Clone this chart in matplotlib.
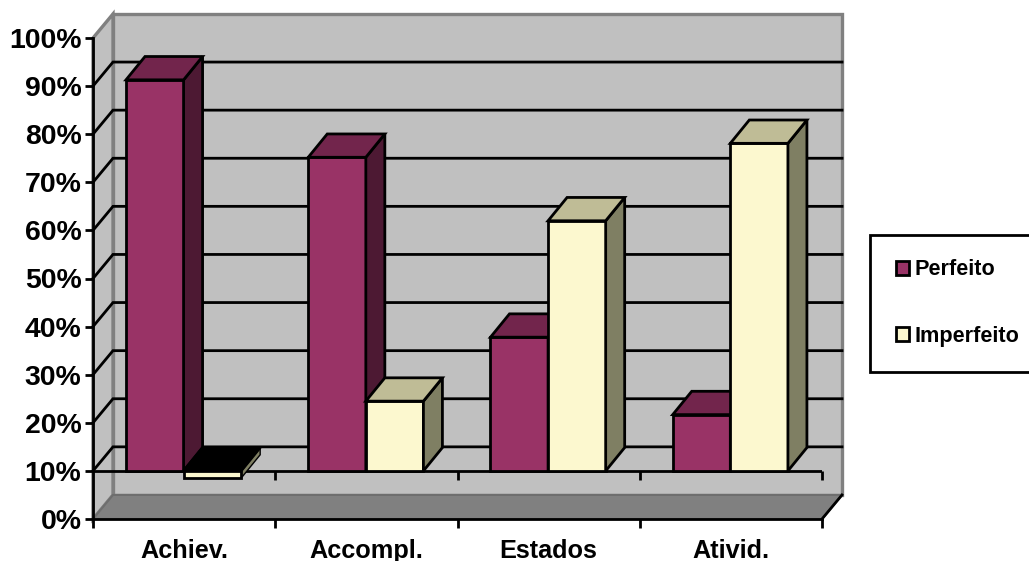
import matplotlib
matplotlib.use('Agg')
import matplotlib.pyplot as plt
from matplotlib.patches import Polygon, Rectangle, Patch

plt.rcParams['font.family'] = ['Liberation Sans', 'DejaVu Sans']
plt.rcParams['font.weight'] = 'bold'

categorias = ['Achiev.', 'Accompl.', 'Estados', 'Ativid.']
perfeito = [91.3, 75.2, 37.8, 21.7]
imperfeito = [8.5, 24.5, 62.0, 78.1]
y_ticks = [0, 10, 20, 30, 40, 50, 60, 70, 80, 90, 100]
base = 10

W, H = 1029, 561
fig = plt.figure(figsize=(W / 100, H / 100), dpi=100, facecolor='white')
ax = fig.add_axes([93 / W, 1 - 519 / H, 729 / W, 481 / H])
ax.set_xlim(0, len(categorias))
ax.set_ylim(0, 100)
ax.patch.set_visible(False)

# profundidade do efeito 3D, em unidades dos eixos
dx = 20 / 182.25
dy = 5.0
bx = 19 / 182.25
by = 4.85
largura = 0.316
folga = 0.181
LW = 2.0
n = len(categorias)


def poli(pts, fc, ec='black', z=3, lw=LW):
    ax.add_patch(Polygon(pts, closed=True, facecolor=fc, edgecolor=ec, linewidth=lw,
                         zorder=z, clip_on=False, joinstyle='miter'))


# paredes e chao
poli([(dx, dy), (n + dx, dy), (n + dx, 100 + dy), (dx, 100 + dy)], '#c0c0c0', '#808080', 1, 2.4)
poli([(0, 0), (dx, dy), (dx, 100 + dy), (0, 100)], '#c0c0c0', '#808080', 1, 2.4)
poli([(0, 0), (n, 0), (n + dx, dy), (dx, dy)], '#808080', '#6e6e6e', 1.2, 1.5)
ax.plot([n, n + dx], [0, dy], color='black', lw=LW, zorder=1.3, clip_on=False)

# grade na parede do fundo e na lateral
for v in y_ticks[1:-1]:
    ax.plot([0, dx, n + dx], [v, v + dy, v + dy], color='black', lw=LW, zorder=1.5,
            clip_on=False, solid_joinstyle='miter')

# linha do cruzamento em 10%
ax.plot([0, n], [base, base], color='black', lw=LW, zorder=1.8)
ax.vlines(range(1, n + 1), base - 1.9, base, color='black', lw=LW, zorder=1.8, clip_on=False)


def barra(x, valor, frente, topo, lado, z):
    x2 = x + largura
    if valor >= base:
        poli([(x, base), (x2, base), (x2, valor), (x, valor)], frente, z=z)
        poli([(x2, base), (x2 + bx, base + by), (x2 + bx, valor + by), (x2, valor)], lado, z=z)
        poli([(x, valor), (x2, valor), (x2 + bx, valor + by), (x + bx, valor + by)], topo, z=z)
    else:
        # barra abaixo do cruzamento: a face de cima fica preta
        poli([(x2, valor), (x2 + bx, valor + by), (x2 + bx, base + by), (x2, base)], lado, z=z, lw=1.0)
        poli([(x, base), (x2, base), (x2 + bx, base + by), (x + bx, base + by)], 'black', z=z)
        poli([(x, valor), (x2, valor), (x2, base), (x, base)], frente, z=z)


for i in range(n):
    barra(i + folga, perfeito[i], '#993366', '#72254c', '#4d1933', 3 + i * 0.1)
    barra(i + folga + largura, imperfeito[i], '#fcf8cf', '#bfbc96', '#7f7f63', 3.05 + i * 0.1)

# eixos
for s in ['top', 'right']:
    ax.spines[s].set_visible(False)
for s in ['left', 'bottom']:
    ax.spines[s].set_linewidth(LW)
    ax.spines[s].set_zorder(2)
ax.set_yticks(y_ticks)
ax.set_yticklabels([f'{v}%' for v in y_ticks], fontsize=20.4, fontweight='bold')
ax.tick_params(axis='y', length=5.8, width=LW, pad=2.5)
ax.set_xticks(range(n + 1))
ax.set_xticklabels([])
ax.set_xticks([i + 0.5 for i in range(n)], minor=True)
ax.set_xticklabels(categorias, minor=True, fontsize=18.2, fontweight='bold')
ax.tick_params(axis='x', which='major', length=6.5, width=LW)
ax.tick_params(axis='x', which='minor', length=0, pad=14.5)

# legenda
fig.add_artist(Rectangle((870 / W, 1 - 371.5 / H), 175 / W, 136.5 / H, transform=fig.transFigure,
                         facecolor='white', edgecolor='black', linewidth=LW))
alcas = [Patch(facecolor='#993366', edgecolor='black', linewidth=LW, label='Perfeito'),
         Patch(facecolor='#fcf8cf', edgecolor='black', linewidth=LW, label='Imperfeito')]
fig.legend(handles=alcas, loc='center left', bbox_to_anchor=(876 / W, 1 - 303 / H),
           frameon=False, handlelength=0.62, handleheight=0.62,
           handletextpad=0.28, labelspacing=2.1, prop={'size': 15.6, 'weight': 'bold'})

fig.savefig('out.png', dpi=100)
